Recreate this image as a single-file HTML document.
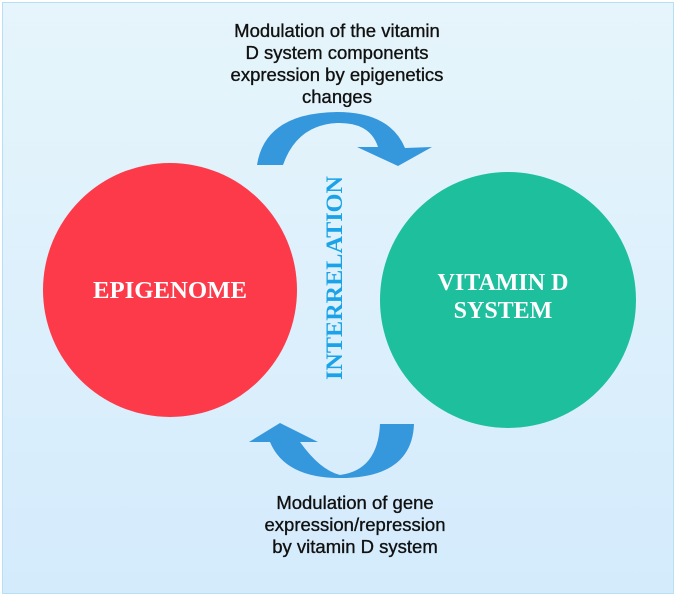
<!DOCTYPE html>
<html><head><meta charset="utf-8"><style>
body{margin:0;width:678px;height:600px;background:#fff;position:relative;overflow:hidden;font-family:"Liberation Sans",sans-serif}
.box{position:absolute;left:2px;top:2px;width:670px;height:590px;border:1px solid #b9dff5;background:linear-gradient(#e6f5fb,#d4ebfc)}
.t{position:absolute;text-align:center;font-size:18.5px;line-height:22px;color:#111;-webkit-text-stroke:0.35px #111}
</style></head><body>
<div class="box"></div>
<div class="t" style="left:187px;width:300px;top:20px">Modulation of the vitamin<br>D system components<br>expression by epigenetics<br>changes</div>
<div class="t" style="left:205px;width:300px;top:492px">Modulation of gene<br>expression/repression<br>by vitamin D system</div>
<svg width="678" height="600" style="position:absolute;left:0;top:0">
<circle cx="170" cy="290" r="127" fill="#fd3a4a"/>
<circle cx="508" cy="300" r="128" fill="#1dbf9d"/>
<text x="170" y="298" text-anchor="middle" font-family="Liberation Serif,serif" font-weight="bold" font-size="24" fill="#fff" textLength="154" lengthAdjust="spacingAndGlyphs">EPIGENOME</text>
<text x="503" y="290" text-anchor="middle" font-family="Liberation Serif,serif" font-weight="bold" font-size="24" fill="#fff">VITAMIN D</text>
<text x="503" y="318" text-anchor="middle" font-family="Liberation Serif,serif" font-weight="bold" font-size="24" fill="#fff">SYSTEM</text>
<text transform="translate(342,278) rotate(-90)" text-anchor="middle" font-family="Liberation Serif,serif" font-weight="bold" font-size="23" fill="#1aa3e8" textLength="204" lengthAdjust="spacingAndGlyphs">INTERRELATION</text>
<path d="M257,165 Q265,113 337,112 Q390,112 405,148 L432,147 L398,166 L357,147 L378,147 Q370,122 337,123 Q297,125 283,165 Z" fill="#3597dc"/>
<path d="M380,424 L414,424 Q412,478 340,478 Q285,478 270,442 L249,442 L280,423 L318,442 L300,442 Q320,470 340,475 Q378,470 380,424 Z" fill="#3597dc"/>
</svg>
</body></html>
